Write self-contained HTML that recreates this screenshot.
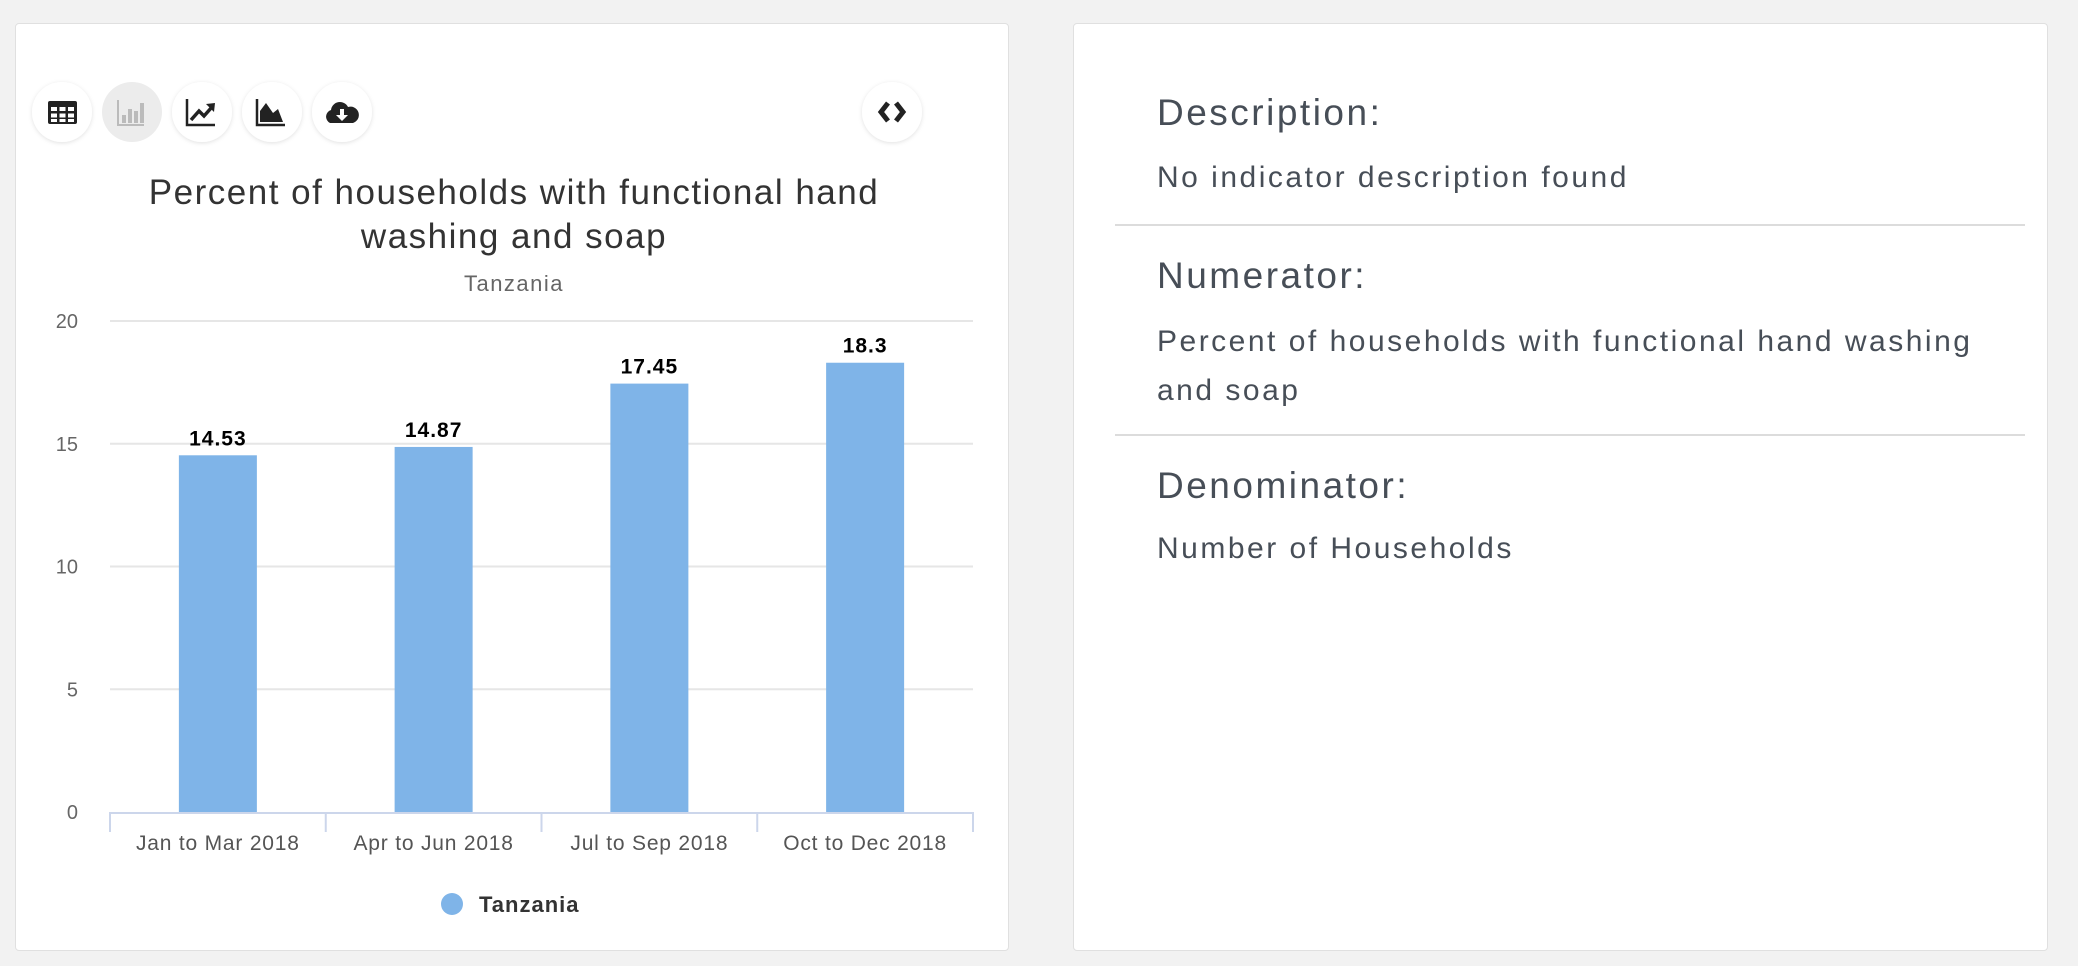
<!DOCTYPE html>
<html><head><meta charset="utf-8">
<style>
body{margin:0;width:2078px;height:966px;background:#f2f2f2;position:relative;overflow:hidden;font-family:"Liberation Sans",sans-serif;}
.card{position:absolute;background:#fff;border:1px solid #e0e0e0;border-radius:4px;}
.rt{position:absolute;left:83px;color:#474e57;}
.h{font-size:37px;letter-spacing:2.5px;}
.b{font-size:30px;line-height:49px;letter-spacing:2.5px;}
.hr{position:absolute;left:41px;width:910px;height:2px;background:#dcdcdc;}
</style></head><body>
<div class="card" style="left:15px;top:23px;width:992px;height:926px;">
<svg width="992" height="926" style="position:absolute;left:-1px;top:-1px">
 <defs><filter id="sh" x="-30%" y="-30%" width="160%" height="160%"><feDropShadow dx="0" dy="1" stdDeviation="2" flood-color="#000" flood-opacity="0.12"/></filter></defs>
 <g><circle cx="47" cy="89" r="30" fill="#fff" filter="url(#sh)"/>
  <rect x="33" y="78" width="29" height="23" rx="2" fill="#222"/>
  <g fill="#fff"><rect x="36" y="84" width="6" height="4"/><rect x="44.5" y="84" width="6" height="4"/><rect x="53" y="84" width="6" height="4"/><rect x="36" y="90.5" width="6" height="4"/><rect x="44.5" y="90.5" width="6" height="4"/><rect x="53" y="90.5" width="6" height="4"/><rect x="36" y="96" width="6" height="3"/><rect x="44.5" y="96" width="6" height="3"/><rect x="53" y="96" width="6" height="3"/></g></g>
 <g><circle cx="117" cy="89" r="30" fill="#ececec"/>
  <path d="M103 77V102H129" stroke="#bbb" stroke-width="2" fill="none"/><g fill="#bbb"><rect x="107" y="92" width="4" height="8"/><rect x="113" y="86" width="4" height="14"/><rect x="119" y="88" width="4" height="12"/><rect x="125" y="80" width="4" height="20"/></g></g>
 <g><circle cx="187" cy="89" r="30" fill="#fff" filter="url(#sh)"/>
  <path d="M172 76V102H200" stroke="#222" stroke-width="2.5" fill="none"/><path d="M176 97L184 88L189 93L197 84" stroke="#222" stroke-width="3.5" fill="none"/><path d="M191 81L200 80L199 89Z" fill="#222"/></g>
 <g><circle cx="257" cy="89" r="30" fill="#fff" filter="url(#sh)"/>
  <path d="M242 76V102H270" stroke="#222" stroke-width="2.5" fill="none"/><path d="M245 99V88L251 80L258 90L263 86L268 99Z" fill="#222"/></g>
 <g><circle cx="327" cy="89" r="30" fill="#fff" filter="url(#sh)"/>
  <path d="M315 100a7 7 0 0 1 1-13a9 9 0 0 1 17-3a8 8 0 0 1 5 16Z" fill="#222"/><path d="M325 86h4v6h4l-6 6l-6-6h4Z" fill="#fff"/></g>
 <g><circle cx="877" cy="89" r="30" fill="#fff" filter="url(#sh)"/>
  <path d="M873 80L866 89L873 98M881 80L888 89L881 98" stroke="#222" stroke-width="5" fill="none"/></g>
 <text x="499" y="181" text-anchor="middle" font-size="35" letter-spacing="1.5" fill="#333">Percent of households with functional hand</text>
 <text x="499" y="225" text-anchor="middle" font-size="35" letter-spacing="1.5" fill="#333">washing and soap</text>
 <text x="499" y="268" text-anchor="middle" font-size="22" letter-spacing="1.5" fill="#666">Tanzania</text>
 <g id="plot"></g>
 <circle cx="437" cy="881" r="11" fill="#7fb4e8"/>
 <text x="464" y="889" font-size="22" letter-spacing="1" font-weight="bold" fill="#333">Tanzania</text>
</svg>
</div>
<div class="card" style="left:1073px;top:23px;width:973px;height:926px;">
 <div class="rt h" style="top:68px">Description:</div>
 <div class="rt b" style="top:129px">No indicator description found</div>
 <div class="hr" style="top:200px"></div>
 <div class="rt h" style="top:231px">Numerator:</div>
 <div class="rt b" style="top:293px;width:840px">Percent of households with functional hand washing and soap</div>
 <div class="hr" style="top:410px"></div>
 <div class="rt h" style="top:441px">Denominator:</div>
 <div class="rt b" style="top:500px">Number of Households</div>
</div>
<script>
const categories=["Jan to Mar 2018","Apr to Jun 2018","Jul to Sep 2018","Oct to Dec 2018"];
const values=[14.53,14.87,17.45,18.3];
const yTicks=[0,5,10,15,20];
const NS="http://www.w3.org/2000/svg";
const g=document.getElementById('plot');
const L=95,R=958,T=298,B=789,yMax=20;
const y=v=>B-(v/yMax)*(B-T);
const bw=(R-L)/categories.length;
const x=i=>L+bw*(i+0.5);
function mk(t,a,txt){const e=document.createElementNS(NS,t);for(const k in a)e.setAttribute(k,a[k]);if(txt!=null)e.textContent=txt;g.appendChild(e);return e;}
yTicks.forEach(v=>{
 if(v>0){const l=mk('line',{x1:L,x2:R,y1:y(v),y2:y(v),stroke:'#e6e6e6','stroke-width':2});
 
 }
 const t=mk('text',{x:63,y:y(v)+7,'text-anchor':'end','font-size':20,fill:'#666'},String(v));
 
 
});
values.forEach((v,i)=>{
 const r=mk('rect',{x:x(i)-39,y:y(v),width:78,height:B-y(v),fill:'#7fb4e8'});
 
 
 const t=mk('text',{x:x(i),y:y(v)-10,'text-anchor':'middle','font-size':21,'letter-spacing':1,'font-weight':'bold',fill:'#000'},String(v));
 
 
});
const ax=mk('line',{x1:L,x2:R,y1:B+1,y2:B+1,stroke:'#ccd6eb','stroke-width':2});


for(let i=0;i<=categories.length;i++){
 const tk=mk('line',{x1:L+bw*i,x2:L+bw*i,y1:B,y2:B+20,stroke:'#ccd6eb','stroke-width':2});
 
 
}
categories.forEach((c,i)=>{
 const t=mk('text',{x:x(i),y:827,'text-anchor':'middle','font-size':21,'letter-spacing':0.8,fill:'#555'},c);
 
 
});
</script>
</body></html>
